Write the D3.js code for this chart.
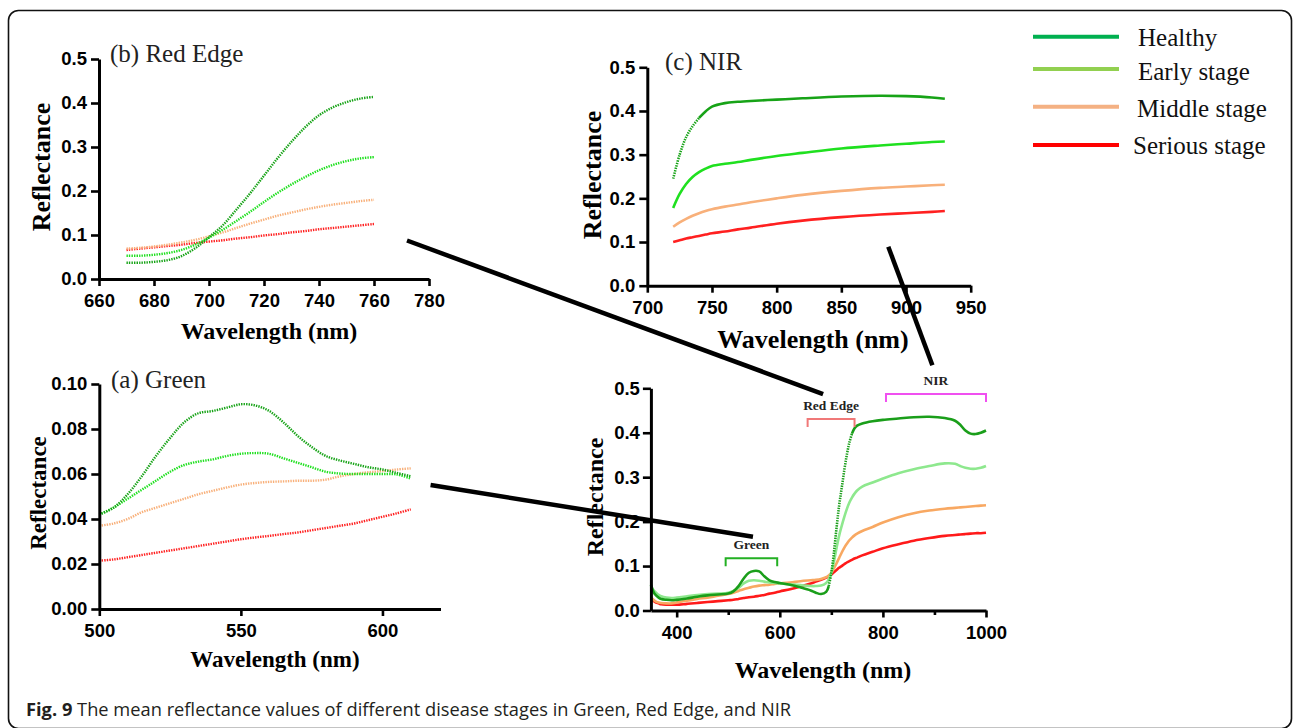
<!DOCTYPE html>
<html><head><meta charset="utf-8">
<script src="https://cdn.jsdelivr.net/npm/d3@7"></script>
<style>body{margin:0;background:#fff}svg{display:block}</style>
</head><body>
<svg id="chart" width="1295" height="728"></svg>
<script>
// ---------------- DATA ----------------
const seriesNames = ["Healthy", "Early stage", "Middle stage", "Serious stage"];

// (a) Green
const wlGreen = [500,505,510,515,520,525,530,535,540,545,550,555,560,565,570,575,580,585,590,595,600,605,610];
const greenHealthy = [0.042,0.045,0.051,0.059,0.068,0.076,0.083,0.087,0.088,0.0895,0.091,0.0905,0.088,0.083,0.077,0.072,0.068,0.066,0.0645,0.063,0.062,0.0605,0.059];
const greenEarly   = [0.042,0.045,0.049,0.053,0.057,0.061,0.064,0.0655,0.0665,0.068,0.069,0.0693,0.069,0.067,0.065,0.063,0.061,0.0602,0.060,0.060,0.060,0.0598,0.058];
const greenMiddle  = [0.037,0.038,0.040,0.043,0.045,0.047,0.049,0.051,0.0525,0.054,0.0553,0.056,0.0565,0.0567,0.057,0.057,0.0575,0.059,0.060,0.0608,0.0613,0.062,0.0625];
const greenSerious = [0.0215,0.022,0.023,0.024,0.025,0.026,0.027,0.028,0.029,0.030,0.031,0.0318,0.0325,0.0333,0.034,0.035,0.036,0.037,0.038,0.0395,0.041,0.0425,0.0443];

// (b) Red Edge
const wlRedEdge = [670,675,680,685,690,695,700,705,710,715,720,725,730,735,740,745,750,755,760];
const reHealthy = [0.037,0.037,0.039,0.043,0.052,0.070,0.095,0.122,0.158,0.195,0.235,0.275,0.312,0.345,0.372,0.390,0.402,0.410,0.414];
const reEarly   = [0.053,0.053,0.055,0.059,0.066,0.078,0.094,0.112,0.132,0.153,0.175,0.196,0.215,0.232,0.247,0.259,0.268,0.274,0.277];
const reMiddle  = [0.069,0.071,0.074,0.078,0.083,0.089,0.097,0.106,0.116,0.126,0.135,0.144,0.151,0.158,0.164,0.169,0.173,0.177,0.180];
const reSerious = [0.066,0.069,0.072,0.075,0.078,0.082,0.085,0.088,0.092,0.095,0.099,0.102,0.106,0.109,0.113,0.116,0.119,0.122,0.125];

// (c) NIR
const wlNIR = [720,725,730,735,740,745,750,760,770,780,800,820,850,880,900,920,930];
const nirHealthy = [0.245,0.300,0.340,0.365,0.384,0.399,0.410,0.418,0.421,0.423,0.426,0.429,0.433,0.435,0.434,0.431,0.428];
const nirEarly   = [0.178,0.210,0.233,0.249,0.260,0.268,0.274,0.279,0.283,0.288,0.297,0.304,0.314,0.321,0.325,0.329,0.330];
const nirMiddle  = [0.135,0.145,0.153,0.160,0.166,0.171,0.175,0.181,0.186,0.191,0.200,0.208,0.217,0.224,0.227,0.230,0.231];
const nirSerious = [0.100,0.104,0.108,0.111,0.114,0.117,0.120,0.124,0.129,0.133,0.142,0.149,0.157,0.163,0.166,0.169,0.171];

// Full spectrum
const wlFull = [350,355,360,365,370,380,390,400,420,440,460,480,500,510,520,530,540,550,560,570,580,590,600,620,640,660,670,680,690,695,700,705,710,715,720,725,730,735,740,745,750,760,780,800,830,860,890,920,940,950,960,970,980,990,1000];
const fullHealthy = [0.058,0.042,0.034,0.029,0.026,0.024,0.023,0.024,0.027,0.031,0.034,0.036,0.038,0.043,0.055,0.072,0.085,0.089,0.088,0.077,0.068,0.064,0.062,0.058,0.052,0.045,0.040,0.037,0.042,0.055,0.085,0.130,0.185,0.235,0.275,0.315,0.350,0.378,0.398,0.410,0.416,0.421,0.426,0.429,0.432,0.435,0.436,0.433,0.427,0.418,0.405,0.398,0.397,0.400,0.405];
const fullEarly   = [0.055,0.046,0.040,0.035,0.032,0.029,0.028,0.029,0.032,0.035,0.037,0.038,0.040,0.044,0.051,0.061,0.067,0.068,0.067,0.065,0.063,0.062,0.061,0.059,0.057,0.055,0.055,0.056,0.062,0.070,0.085,0.110,0.140,0.168,0.190,0.210,0.228,0.243,0.254,0.263,0.270,0.279,0.288,0.297,0.309,0.318,0.325,0.331,0.330,0.325,0.321,0.319,0.319,0.321,0.325];
const fullMiddle  = [0.030,0.024,0.020,0.018,0.017,0.016,0.016,0.018,0.022,0.026,0.029,0.033,0.037,0.040,0.044,0.048,0.051,0.054,0.056,0.057,0.058,0.060,0.061,0.063,0.066,0.068,0.069,0.071,0.075,0.079,0.085,0.095,0.106,0.118,0.130,0.141,0.150,0.158,0.164,0.169,0.173,0.179,0.188,0.198,0.210,0.219,0.225,0.229,0.231,0.232,0.233,0.234,0.235,0.236,0.237];
const fullSerious = [0.028,0.022,0.018,0.016,0.014,0.013,0.013,0.013,0.015,0.017,0.019,0.021,0.023,0.024,0.026,0.028,0.030,0.031,0.033,0.035,0.038,0.040,0.043,0.048,0.054,0.061,0.065,0.069,0.074,0.077,0.081,0.086,0.091,0.096,0.100,0.104,0.108,0.111,0.114,0.117,0.119,0.124,0.132,0.140,0.149,0.157,0.163,0.168,0.170,0.171,0.172,0.173,0.174,0.174,0.175];

// Band brackets on the full spectrum
const bandNames = ["Green", "Red Edge", "NIR"];
const bandStart = [495, 654, 806];
const bandEnd   = [595, 745, 1000];
const bandLevel = [0.1175, 0.431, 0.487];

const captionBold = "Fig. 9";
const captionText = " The mean reflectance values of different disease stages in Green, Red Edge, and NIR";

// ---------------- STYLE / LAYOUT ----------------
const svg = d3.select("#chart");
const SERIF = "'Liberation Serif','Times New Roman',serif";
const SANS = "'Liberation Sans',Arial,sans-serif";

svg.append("rect").attr("x",8.5).attr("y",10.5).attr("width",1283).attr("height",718)
  .attr("rx",10).attr("fill","none").attr("stroke","#111").attr("stroke-width",1.6);

const smallColors = ["#17a317","#1fe01f","#f8b07a","#ff2020"];
const fullColors  = ["#1a9e1a","#8ee88e","#f8a862","#ff1a1a"];

const panels = [
  {key:"a", title:"(a) Green", titlePos:[111,388], wl:wlGreen, series:[greenHealthy,greenEarly,greenMiddle,greenSerious],
   xDom:[500,620.5], xRange:[99.3,440.5], yDom:[0,0.1], yRange:[609,384],
   xTicks:[500,550,600], yTicks:[0,0.02,0.04,0.06,0.08,0.10], yFmt:".2f",
   colors:smallColors, dotted:[[0,9999],[0,9999],[0,9999],[0,9999]], width:2.4,
   yTitle:{x:46,y:493,size:23}, xTitle:{x:275,y:667,size:23}, tickSize:7, yPad:4, xPad:8},
  {key:"b", title:"(b) Red Edge", titlePos:[110,62], wl:wlRedEdge, series:[reHealthy,reEarly,reMiddle,reSerious],
   xDom:[660,780], xRange:[99,429], yDom:[0,0.5], yRange:[279,59],
   xTicks:[660,680,700,720,740,760,780], yTicks:[0,0.1,0.2,0.3,0.4,0.5], yFmt:".1f",
   colors:smallColors, dotted:[[0,9999],[0,9999],[0,9999],[0,9999]], width:2.4,
   yTitle:{x:50,y:167,size:26}, xTitle:{x:269,y:339,size:24}, tickSize:7, yPad:4, xPad:8},
  {key:"c", title:"(c) NIR", titlePos:[665,70], wl:wlNIR, series:[nirHealthy,nirEarly,nirMiddle,nirSerious],
   xDom:[700,950], xRange:[647.3,970.7], yDom:[0,0.5], yRange:[285.7,67.3],
   xTicks:[700,750,800,850,900,950], yTicks:[0,0.1,0.2,0.3,0.4,0.5], yFmt:".1f",
   colors:smallColors, dotted:[[720,740],null,null,null], width:2.6,
   yTitle:{x:601,y:175,size:26}, xTitle:{x:813,y:348,size:26}, tickSize:7, yPad:4, xPad:8},
  {key:"full", title:null, wl:wlFull, series:[fullHealthy,fullEarly,fullMiddle,fullSerious],
   xDom:[350,1000], xRange:[650.9,986], yDom:[0,0.5], yRange:[610.5,388.3],
   xTicks:[400,600,800,1000], xMinor:[500,700,900], yTicks:[0,0.1,0.2,0.3,0.4,0.5], yFmt:".1f",
   colors:fullColors, dotted:[[695,740],null,null,null], width:2.6,
   yTitle:{x:603,y:497,size:24}, xTitle:{x:823,y:678,size:24}, tickSize:7, yPad:3, xPad:8}
];

const scales = {};

panels.forEach(p => {
  const x = d3.scaleLinear().domain(p.xDom).range(p.xRange);
  const y = d3.scaleLinear().domain(p.yDom).range(p.yRange);
  scales[p.key] = {x, y};
  const g = svg.append("g");

  const line = d3.line().x(d => x(d[0])).y(d => y(d[1])).curve(d3.curveCatmullRom.alpha(0.5));
  for (let i = p.series.length - 1; i >= 0; i--) {
    const pts = p.wl.map((w, j) => [w, p.series[i][j]]);
    const dr = p.dotted[i];
    const col = p.colors[i];
    if (!dr) {
      g.append("path").attr("d", line(pts)).attr("fill","none").attr("stroke",col).attr("stroke-width",p.width);
    } else {
      const before = pts.filter(d => d[0] <= dr[0]);
      const mid = pts.filter(d => d[0] >= dr[0] && d[0] <= dr[1]);
      const after = pts.filter(d => d[0] >= dr[1]);
      [before, after].forEach(seg => {
        if (seg.length > 1) g.append("path").attr("d", line(seg)).attr("fill","none").attr("stroke",col).attr("stroke-width",p.width);
      });
      if (mid.length > 1) g.append("path").attr("d", line(mid)).attr("fill","none").attr("stroke",col)
        .attr("stroke-width",p.width).attr("stroke-dasharray","1.4 1.1");
    }
  }

  const xAxis = d3.axisBottom(x).tickValues(p.xTicks).tickSize(p.tickSize).tickSizeOuter(0).tickPadding(p.xPad).tickFormat(d3.format("d"));
  const yAxis = d3.axisLeft(y).tickValues(p.yTicks).tickSize(p.tickSize + 1).tickSizeOuter(0).tickPadding(p.yPad).tickFormat(d3.format(p.yFmt));
  const gx = g.append("g").attr("transform", `translate(0,${p.yRange[0]})`).call(xAxis);
  const gy = g.append("g").attr("transform", `translate(${p.xRange[0]},0)`).call(yAxis);
  if (p.xMinor) {
    g.append("g").attr("transform", `translate(0,${p.yRange[0]})`)
      .call(d3.axisBottom(x).tickValues(p.xMinor).tickSize(4.5).tickSizeOuter(0).tickFormat(""))
      .call(s => s.select(".domain").remove())
      .selectAll(".tick line").attr("stroke","#000").attr("stroke-width",2.6);
  }
  [gx, gy].forEach(a => {
    a.selectAll(".domain").attr("stroke","#000").attr("stroke-width",3);
    a.selectAll(".tick line").attr("stroke","#000").attr("stroke-width",2.6);
    a.selectAll("text").attr("font-family",SANS).attr("font-weight","bold").attr("font-size",18.5).attr("fill","#000");
  });

  g.append("text").attr("transform", `translate(${p.yTitle.x},${p.yTitle.y}) rotate(-90)`)
    .attr("text-anchor","middle").attr("font-family",SERIF).attr("font-weight","bold")
    .attr("font-size",p.yTitle.size).text("Reflectance");
  g.append("text").attr("x",p.xTitle.x).attr("y",p.xTitle.y).attr("text-anchor","middle")
    .attr("font-family",SERIF).attr("font-weight","bold").attr("font-size",p.xTitle.size).text("Wavelength (nm)");
  if (p.title) {
    g.append("text").attr("x",p.titlePos[0]).attr("y",p.titlePos[1]).attr("font-family",SERIF)
      .attr("font-size",25).attr("fill","#222").text(p.title);
  }
});

// band brackets on full spectrum
const fx = scales.full.x, fy = scales.full.y;
const bandColors = ["#23b023","#f07878","#f050f0"];
bandNames.forEach((n, i) => {
  const x0 = fx(bandStart[i]), x1 = fx(bandEnd[i]), yy = fy(bandLevel[i]);
  svg.append("path").attr("d", `M${x0},${yy+8}V${yy}H${x1}V${yy+8}`)
    .attr("fill","none").attr("stroke",bandColors[i]).attr("stroke-width",2);
  svg.append("text").attr("x",(x0+x1)/2).attr("y",yy-9).attr("text-anchor","middle")
    .attr("font-family",SERIF).attr("font-weight","bold").attr("font-size",13.5).attr("fill","#222").text(n);
});

// connector lines (from zoom panels to their bands), in each panel's data units
const connectors = [
  {from:["b",772,0.0875], to:["full",684,0.487]},
  {from:["a",617,0.0551], to:["full",548,0.166]},
  {from:["c",886.3,0.0893], to:["full",896,0.552]}
];
connectors.forEach(c => {
  const s = scales[c.from[0]], t = scales[c.to[0]];
  svg.append("line").attr("x1",s.x(c.from[1])).attr("y1",s.y(c.from[2]))
    .attr("x2",t.x(c.to[1])).attr("y2",t.y(c.to[2]))
    .attr("stroke","#000").attr("stroke-width",4.5);
});

// legend
const legendColors = ["#00b050","#92d050","#f4b183","#ff0000"];
const legendY = [36.7, 69, 106.7, 145];
const legendTextY = [45.5, 80, 116.5, 154];
const legendTextX = [1138, 1138, 1137, 1133];
seriesNames.forEach((n, i) => {
  svg.append("line").attr("x1",1033).attr("x2",1119).attr("y1",legendY[i]).attr("y2",legendY[i])
    .attr("stroke",legendColors[i]).attr("stroke-width",4);
  svg.append("text").attr("x",legendTextX[i]).attr("y",legendTextY[i]).attr("font-family",SERIF)
    .attr("font-size",25).attr("fill","#111").text(n);
});

// caption
const cap = svg.append("text").attr("font-family","'Open Sans','Noto Sans',sans-serif").attr("font-size",18.5).attr("fill","#231f20");
cap.append("tspan").attr("font-weight","bold").text(captionBold);
cap.append("tspan").text(captionText);
const w = cap.node().getComputedTextLength();
const k = (792 - 26) / w;
cap.attr("transform", `translate(26,716) scale(${k},1)`);
</script>
</body></html>
